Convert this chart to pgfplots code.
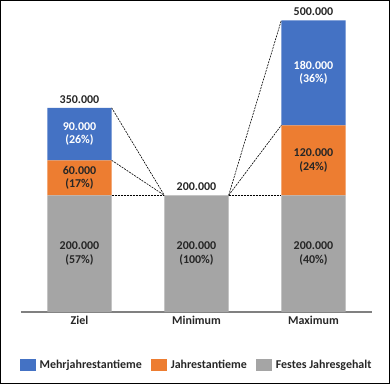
\documentclass[border=0pt]{standalone}
\usepackage{fontspec}
\setmainfont{Carlito}
\usepackage{pgfplots}
\pgfplotsset{compat=1.18}
\definecolor{cblue}{HTML}{4472C4}
\definecolor{corange}{HTML}{ED7D31}
\definecolor{cgray}{HTML}{A5A5A5}
\definecolor{ctext}{HTML}{262626}
\definecolor{caxis}{HTML}{808080}
\newcommand{\lfont}{\fontsize{12}{13.5}\selectfont\bfseries}
\begin{document}
\begin{tikzpicture}[font=\lfont]
\pgfplotsset{
  common/.style={scale only axis, width=351bp, height=291.7bp,
    xmin=-0.5, xmax=2.5, ymin=0, ymax=500000, clip=false, enlargelimits=false},
}
\begin{axis}[common, name=main, ybar stacked, bar width=0.55,
  axis x line=bottom, axis y line=none,
  x axis line style={-, draw=caxis, line width=1.5bp},
  xtick={0,1,2}, xticklabels={Ziel,Minimum,Maximum}, major tick length=0pt,
  ytick=\empty,
  xticklabel style={text=ctext, font=\lfont, yshift=-0.5bp},
  legend columns=3, reverse legend,
  legend style={at={(0.5,-0.1817)}, anchor=center, draw=none, fill=none,
    font=\lfont, text=ctext,
    /tikz/every odd column/.append style={column sep=2bp},
    /tikz/every even column/.append style={column sep=7bp}},
]
\addplot[fill=cgray, draw=none,
  legend image code/.code={\fill[cgray] (0bp,-6bp) rectangle (16bp,6bp);}]
  coordinates {(0,200000) (1,200000) (2,200000)};
\addplot[fill=corange, draw=none,
  legend image code/.code={\fill[corange] (0bp,-6bp) rectangle (16bp,6bp);}]
  coordinates {(0,60000) (1,0) (2,120000)};
\addplot[fill=cblue, draw=none,
  legend image code/.code={\fill[cblue] (0bp,-6bp) rectangle (16bp,6bp);}]
  coordinates {(0,90000) (1,0) (2,180000)};
\legend{Festes Jahresgehalt, Jahrestantieme, Mehrjahrestantieme}
\end{axis}
\begin{axis}[common, hide axis]
% connectors
\addplot[black, line width=0.6bp, dash pattern=on 2bp off 1bp] coordinates {(0.275,350000) (0.725,200000)};
\addplot[black, line width=0.6bp, dash pattern=on 2bp off 1bp] coordinates {(0.275,260000) (0.725,200000)};
\addplot[black, line width=0.6bp, dash pattern=on 2bp off 1bp] coordinates {(0.275,200000) (0.725,200000)};
\addplot[black, line width=0.6bp, dash pattern=on 2bp off 1bp] coordinates {(1.275,200000) (1.725,500000)};
\addplot[black, line width=0.6bp, dash pattern=on 2bp off 1bp] coordinates {(1.275,200000) (1.725,320000)};
\addplot[black, line width=0.6bp, dash pattern=on 2bp off 1bp] coordinates {(1.275,200000) (1.725,200000)};
% segment labels (dark)
\addplot[draw=none, mark=none, nodes near coords, point meta=explicit symbolic,
  every node near coord/.style={anchor=center, align=center, text=ctext, font=\lfont}]
  coordinates {
    (0,100000) [200.000\\(57\%)]
    (1,100000) [200.000\\(100\%)]
    (2,100000) [200.000\\(40\%)]
    (0,230000) [60.000\\(17\%)]
    (2,260000) [120.000\\(24\%)]
  };
% segment labels (white)
\addplot[draw=none, mark=none, nodes near coords, point meta=explicit symbolic,
  every node near coord/.style={anchor=center, align=center, text=white, font=\lfont}]
  coordinates {
    (0,305000) [90.000\\(26\%)]
    (2,410000) [180.000\\(36\%)]
  };
% totals
\addplot[draw=none, mark=none, nodes near coords, point meta=explicit symbolic,
  every node near coord/.style={anchor=south, text=ctext, font=\lfont, yshift=1bp}]
  coordinates {
    (0,350000) [350.000]
    (1,200000) [200.000]
    (2,500000) [500.000]
  };
\end{axis}
\draw[line width=1.3bp, black] ([shift={(-20.3bp,-71.6bp)}]main.south west) rectangle ([shift={(368.2bp,311.3bp)}]main.south west);
\path ([shift={(-21bp,-75bp)}]main.south west) rectangle ([shift={(370bp,312bp)}]main.south west);
\end{tikzpicture}
\end{document}
